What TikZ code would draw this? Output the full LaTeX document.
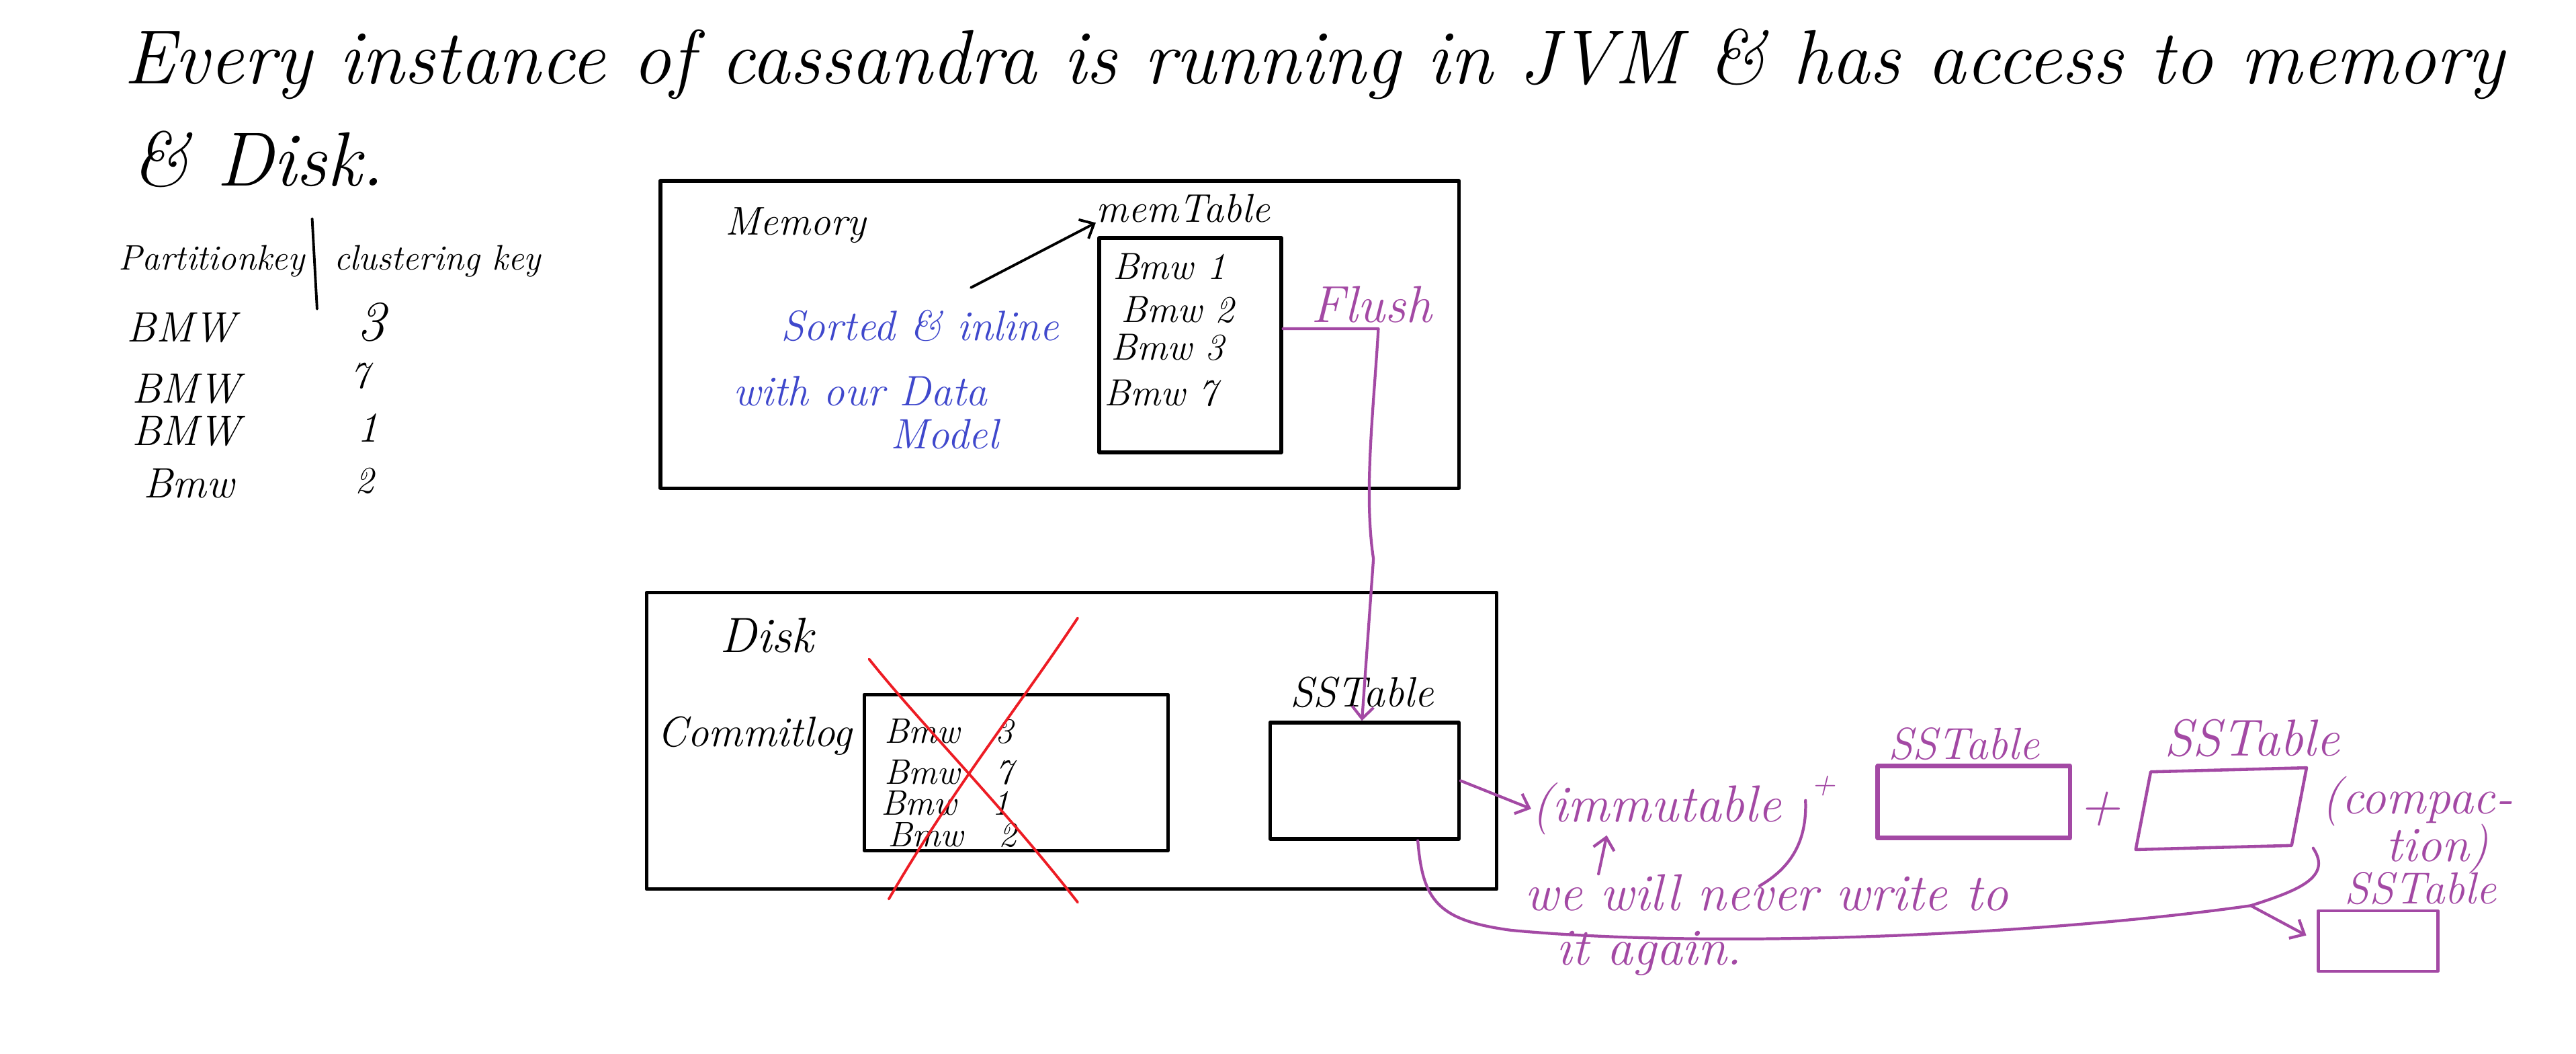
\documentclass[tikz,border=0pt]{standalone}
\usetikzlibrary{arrows.meta}
\definecolor{inkblue}{HTML}{3F48CC}
\definecolor{inkpurple}{HTML}{A349A4}
\definecolor{inkred}{HTML}{ED1C24}

\begin{document}
\begin{tikzpicture}[x=0.02445cm, y=-0.02445cm, >={Straight Barb[length=5pt,width=9pt]}, line cap=round, line join=round,
  hand/.style={font=\fontsize{#1}{#1}\selectfont\itshape, inner sep=0pt, anchor=base west},
  box node/.style={draw, line width=1.5pt, inner sep=0pt},
  purple box/.style={draw=inkpurple, line width=1.3pt, inner sep=0pt},
  purple line/.style={draw=inkpurple, line width=1.2pt},
  cross line/.style={draw=inkred, line width=1.1pt}]

  \useasboundingbox (0,0) rectangle (1568,641);

  \node[hand=32.5] (title) at (75,51) {Every instance of cassandra is running in JVM \& has access to memory};
  \node[hand=32.5] (title2) at (80,113) {\& Disk.};

  \node[hand=15] (pkey) at (72,164) {Partitionkey};
  \node[hand=15] (ckey) at (203,164) {clustering key};
  \draw[line width=1.1pt] (190,133) -- (193,188);
  \node[hand=18] (k1) at (77,208) {BMW};
  \node[hand=18] (k2) at (80,245) {BMW};
  \node[hand=18] (k3) at (80,271) {BMW};
  \node[hand=18] (k4) at (87,303) {Bmw};
  \node[hand=24] (c1) at (217,207) {3};
  \node[hand=16] (c2) at (213,236) {7};
  \node[hand=18] (c3) at (217,269) {1};
  \node[hand=16] (c4) at (216,300) {2};

  \node[box node, minimum width=11.88cm, minimum height=4.57cm] (mem) at (645,203.5) {};
  \node[hand=17] (memlbl) at (441,143) {Memory};
  \node[hand=17] (memtablbl) at (667,135) {memTable};
  \node[box node, minimum width=2.71cm, minimum height=3.19cm] (memtab) at (724.5,210) {};
  \node[hand=16] (m1) at (677,170) {Bmw 1};
  \node[hand=16] (m2) at (682,196) {Bmw 2};
  \node[hand=16] (m3) at (676,219) {Bmw 3};
  \node[hand=16] (m4) at (672,247) {Bmw 7};

  \node[hand=18, text=inkblue] (sorted1) at (475,207) {Sorted \& inline};
  \node[hand=18, text=inkblue] (sorted2) at (446,247) {with our Data};
  \node[hand=18, text=inkblue] (sorted3) at (542,273) {Model};
  \coordinate (sortedtail) at (591,175);
  \draw[->, line width=1.1pt] (sortedtail) -- (memtablbl.south west);

  \node[hand=22, text=inkpurple] (flushlbl) at (798,196) {Flush};

  \node[box node, minimum width=12.65cm, minimum height=4.41cm] (disk) at (652.3,450.8) {};
  \node[hand=21] (disklbl) at (438,397) {Disk};
  \node[hand=18] (cloglbl) at (400,454) {Commitlog};
  \node[box node, minimum width=4.52cm, minimum height=2.32cm] (clog) at (618.5,470) {};
  \node[hand=15] (r1) at (538,452) {Bmw\quad 3};
  \node[hand=15] (r2) at (538,477) {Bmw\quad 7};
  \node[hand=15] (r3) at (536,496) {Bmw\quad 1};
  \node[hand=15] (r4) at (540,515) {Bmw\quad 2};
  \draw[cross line] (529,401) .. controls (560,440) and (610,490) .. (656,549);
  \draw[cross line] (656,376) .. controls (620,430) and (580,480) .. (541,547);

  \node[hand=18] (sstlbl) at (785,430) {SSTable};
  \node[box node, minimum width=2.81cm, minimum height=1.73cm] (sst) at (830.5,475) {};

  \coordinate (flushbend) at (839,200);
  \draw[purple line,->] (memtab.east |- flushbend) -- (flushbend)
    .. controls (836,250) and (830,300) .. (836,340) -- (sst.north -| 829,0);

  \node[hand=22, text=inkpurple] (imm) at (932,500) {(immutable};
  \draw[purple line] (1099,487) .. controls (1100,512) and (1090,528) .. (1071,539);
  \node[hand=14, text=inkpurple, anchor=center] (plus1) at (1110,478) {+};
  \draw[purple line,->] (sst.east) -- (imm.west);

  \node[hand=22, text=inkpurple] (never) at (928,554) {we will never write to};
  \node[hand=22, text=inkpurple] (again) at (947,587) {it again.};
  \draw[purple line,->] (never.north -| 973,0) -- (imm.south -| 978,0);

  \node[hand=19, text=inkpurple] (ss2lbl) at (1149,462) {SSTable};
  \node[purple box, line width=1.9pt, minimum width=2.86cm, minimum height=1.07cm] (ss2) at (1201.5,488) {};
  \node[hand=24, text=inkpurple, anchor=center] (plus2) at (1278,492) {+};
  \node[hand=22, text=inkpurple] (ss3lbl) at (1317,460) {SSTable};
  \node[purple box, minimum width=2.32cm, minimum height=1.15cm, rotate=1.5, xslant=0.22] (ss3) at (1352,492) {};
  \node[hand=21, text=inkpurple] (compac) at (1413,495) {(compac-};
  \node[hand=21, text=inkpurple] (tion) at (1452,524) {tion)};
  \node[hand=19, text=inkpurple] (ss4lbl) at (1427,550) {SSTable};
  \node[purple box, minimum width=1.78cm, minimum height=0.9cm] (ss4) at (1447.5,572.5) {};

  \coordinate (merge) at (1370,551);
  \draw[purple line] (sst.south -| 863,0) .. controls (866,548) and (875,560) .. (920,566)
    .. controls (1050,578) and (1250,568) .. (merge)
    .. controls (1398,542) and (1420,534) .. (1408,516);
  \draw[purple line,->, shorten >=5pt] (merge) -- (ss4.west);
\end{tikzpicture}
\end{document}
